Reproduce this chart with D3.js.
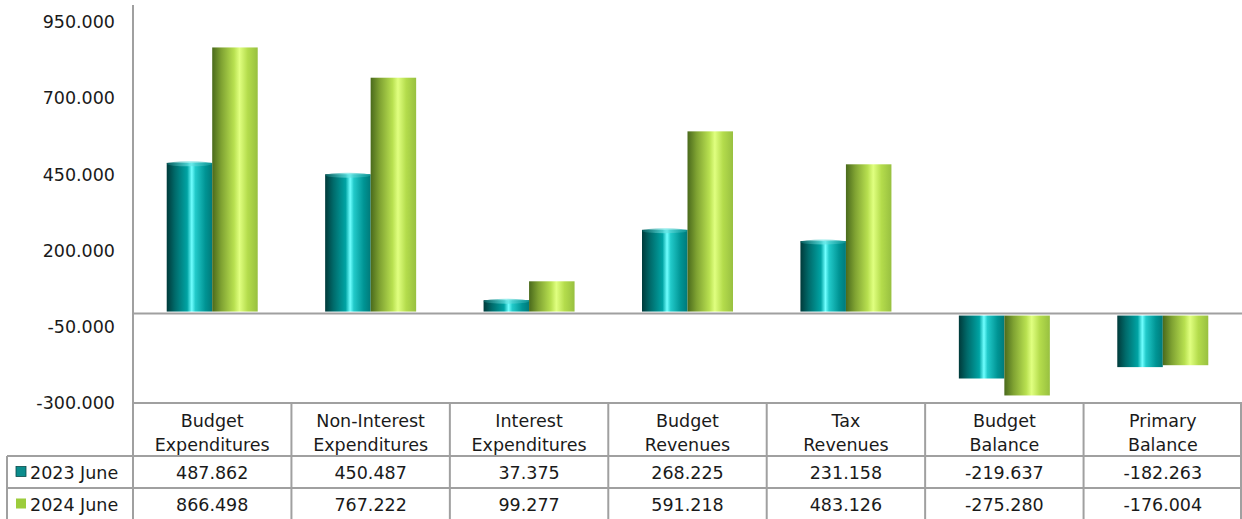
<!DOCTYPE html>
<html>
<head>
<meta charset="utf-8">
<script src="https://cdn.jsdelivr.net/npm/d3@7"></script>
<style>
  body { margin: 0; background: #fff; }
  svg text { font-family: 'DejaVu Sans', sans-serif; fill: #1a1a1a; }
</style>
</head>
<body>
<script>
const categories = [
  ['Budget', 'Expenditures'],
  ['Non-Interest', 'Expenditures'],
  ['Interest', 'Expenditures'],
  ['Budget', 'Revenues'],
  ['Tax', 'Revenues'],
  ['Budget', 'Balance'],
  ['Primary', 'Balance']
];
const seriesNames = ['2023 June', '2024 June'];
const june2023 = [487.862, 450.487, 37.375, 268.225, 231.158, -219.637, -182.263];
const june2024 = [866.498, 767.222, 99.277, 591.218, 483.126, -275.28, -176.004];
const yTicks = [-300, -50, 200, 450, 700, 950];

const width = 1242;
const height = 519;
const left = 133;
const right = 1242;
const plotTop = 22;
const plotBottom = 403;
const headerBottom = 456;
const rowH = 32;
const barW = 45.5;
const fontSize = 17.5;
const lineColor = '#a0a0a0';
const fmt = d3.formatLocale({
  decimal: '.',
  thousands: ',',
  grouping: [3],
  currency: ['', ''],
  minus: '-'
}).format('.3f');

const svg = d3
  .select('body')
  .append('svg')
  .attr('width', width)
  .attr('height', height);

const defs = svg.append('defs');

function cylGradient(id, stops) {
  const g = defs
    .append('linearGradient')
    .attr('id', id)
    .attr('x1', '0%')
    .attr('x2', '100%')
    .attr('y1', '0%')
    .attr('y2', '0%');
  stops.forEach(s => {
    g.append('stop').attr('offset', s[0]).attr('stop-color', s[1]);
  });
}

cylGradient('teal', [
  ['0%', '#003a3a'],
  ['18%', '#006a6a'],
  ['45%', '#00a4a4'],
  ['55%', '#70ffff'],
  ['63%', '#22caca'],
  ['85%', '#009494'],
  ['100%', '#007a7a']
]);
cylGradient('green', [
  ['0%', '#4a6a1c'],
  ['20%', '#7fa232'],
  ['48%', '#b8e050'],
  ['60%', '#e0ff80'],
  ['78%', '#b4dc4c'],
  ['100%', '#98c040']
]);
cylGradient('tealTop', [
  ['0%', '#0a6a6a'],
  ['50%', '#6fe8e8'],
  ['100%', '#159c9c']
]);

const fills = ['url(#teal)', 'url(#green)'];
const legendFills = ['#0b8c8c', '#9ccc3c'];

const y = d3.scaleLinear().domain([-300, 950]).range([plotBottom, plotTop]);

const x = d3
  .scaleBand()
  .domain(d3.range(categories.length))
  .range([left, right]);

const xInner = d3
  .scaleBand()
  .domain([0, 1])
  .range([x.bandwidth() / 2 - barW, x.bandwidth() / 2 + barW]);

// y axis
const yAxis = d3
  .axisLeft(y)
  .tickValues(yTicks)
  .tickFormat(fmt)
  .tickSize(0)
  .tickPadding(18);

const gy = svg
  .append('g')
  .attr('transform', `translate(${left},0)`)
  .call(yAxis);
gy.select('.domain').remove();
gy.selectAll('text')
  .style('font-family', "'DejaVu Sans', sans-serif")
  .style('font-size', fontSize + 'px')
  .attr('fill', '#1a1a1a');

svg
  .append('line')
  .attr('x1', left)
  .attr('x2', left)
  .attr('y1', 5)
  .attr('y2', plotBottom)
  .attr('stroke', lineColor)
  .attr('stroke-width', 2);

// bars (negative bars hang below the floor line)
const floorGap = 4;
const series = [june2023, june2024];
series.forEach((vals, si) => {
  const g = svg.append('g');
  g.selectAll('rect')
    .data(vals)
    .enter()
    .append('rect')
    .attr('x', (d, i) => x(i) + xInner(si))
    .attr('width', xInner.bandwidth())
    .attr('y', d => (d >= 0 ? y(d) : y(0) + floorGap))
    .attr('height', d => (d >= 0 ? y(0) - y(d) : y(d) - y(0) - floorGap))
    .attr('fill', fills[si]);
  if (si === 0) {
    g.selectAll('ellipse')
      .data(vals.map((d, i) => [d, i]).filter(d => d[0] > 0))
      .enter()
      .append('ellipse')
      .attr('cx', d => x(d[1]) + xInner(si) + xInner.bandwidth() / 2)
      .attr('cy', d => y(d[0]) + 1)
      .attr('rx', xInner.bandwidth() / 2)
      .attr('ry', 2.5)
      .attr('fill', 'url(#tealTop)')
      .attr('opacity', 0.7);
  }
});

// zero floor line
svg
  .append('line')
  .attr('x1', left)
  .attr('x2', right)
  .attr('y1', y(0) + 2)
  .attr('y2', y(0) + 2)
  .attr('stroke', lineColor)
  .attr('stroke-width', 2);

// data table
const table = svg.append('g');
const hLine = (x1, x2, yy) =>
  table
    .append('line')
    .attr('x1', x1)
    .attr('x2', x2)
    .attr('y1', yy)
    .attr('y2', yy)
    .attr('stroke', lineColor)
    .attr('stroke-width', 2);
const vLine = (xx, y1, y2) =>
  table
    .append('line')
    .attr('x1', xx)
    .attr('x2', xx)
    .attr('y1', y1)
    .attr('y2', y2)
    .attr('stroke', lineColor)
    .attr('stroke-width', 2);

hLine(left, right, plotBottom);
hLine(7, right, headerBottom);
hLine(7, right, headerBottom + rowH);
vLine(7, headerBottom, height);
d3.range(categories.length + 1).forEach(i => {
  const xx = i === categories.length ? right - 1 : x(i);
  vLine(xx, plotBottom, height);
});

categories.forEach((c, i) => {
  const t = table
    .append('text')
    .attr('text-anchor', 'middle')
    .style('font-size', fontSize + 'px');
  c.forEach((line, li) => {
    t.append('tspan')
      .attr('x', x(i) + x.bandwidth() / 2)
      .attr('y', 427 + li * 24)
      .text(line);
  });
});

series.forEach((vals, si) => {
  const rowMid = headerBottom + rowH * si + rowH / 2 + 6.5;
  table
    .selectAll(null)
    .data(vals)
    .enter()
    .append('text')
    .attr('x', (d, i) => x(i) + x.bandwidth() / 2)
    .attr('y', rowMid)
    .attr('text-anchor', 'middle')
    .style('font-size', fontSize + 'px')
    .text(d => fmt(d));

  table
    .append('rect')
    .attr('x', 16)
    .attr('y', rowMid - 12)
    .attr('width', 10)
    .attr('height', 10)
    .attr('fill', legendFills[si])
    .attr('stroke', si === 0 ? '#0a4a4a' : 'none')
    .attr('stroke-width', 0.8);

  table
    .append('text')
    .attr('x', 30)
    .attr('y', rowMid)
    .style('font-size', fontSize + 'px')
    .text(seriesNames[si]);
});
</script>
</body>
</html>
